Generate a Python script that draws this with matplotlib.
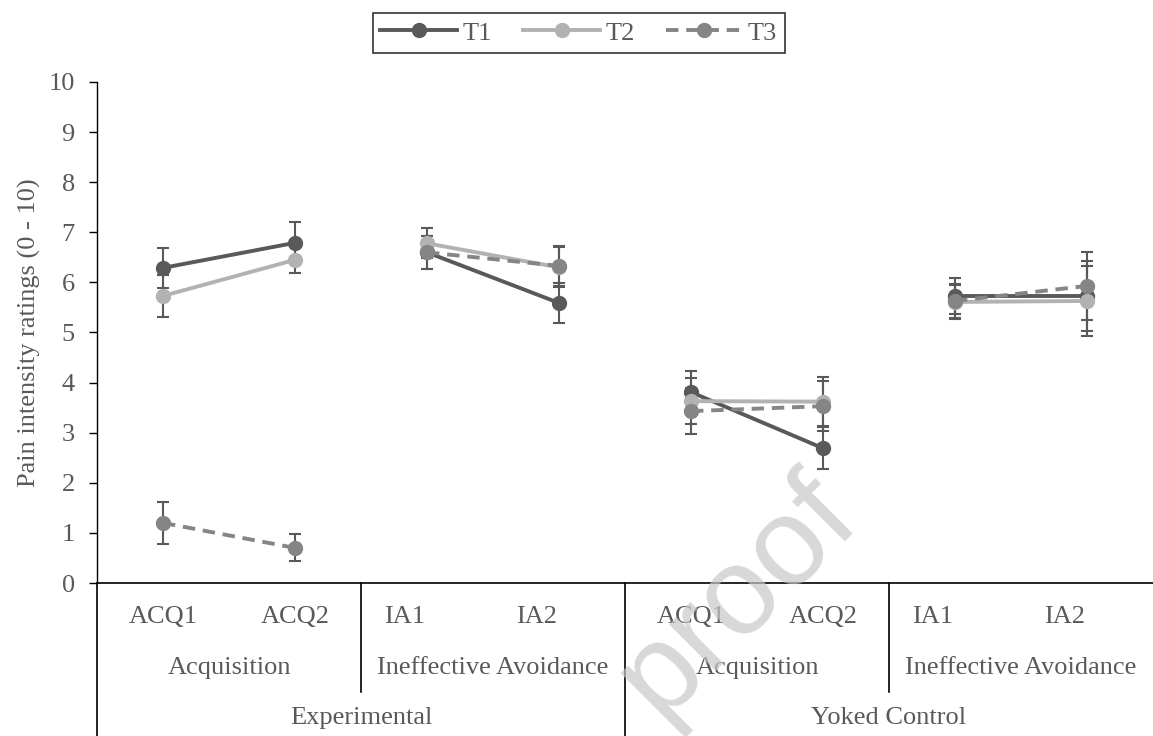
import numpy as np
import matplotlib
matplotlib.use("Agg")
from matplotlib import pyplot as plt
from matplotlib.lines import Line2D

plt.rcParams['font.family'] = ['Liberation Serif', 'DejaVu Serif']

# --- Data ---
phases = ['ACQ1', 'ACQ2', 'IA1', 'IA2', 'ACQ1', 'ACQ2', 'IA1', 'IA2']
blocks = ['Acquisition', 'Ineffective Avoidance', 'Acquisition', 'Ineffective Avoidance']
groups = ['Experimental', 'Yoked Control']

t1 = [6.29, 6.79, 6.60, 5.59, 3.81, 2.69, 5.73, 5.73]
t2 = [5.73, 6.45, 6.78, 6.30, 3.63, 3.62, 5.61, 5.63]
t3 = [1.20, 0.70, 6.60, 6.33, 3.43, 3.53, 5.63, 5.93]

t1_err = [0.40, 0.42, 0.33, 0.40, 0.42, 0.42, 0.36, 0.70]
t2_err = [0.42, 0.26, 0.30, 0.40, 0.46, 0.49, 0.34, 0.70]
t3_err = [0.42, 0.27, 0.33, 0.40, 0.46, 0.50, 0.34, 0.68]

series = [('T1', t1, t1_err, '#595959', '-'),
          ('T2', t2, t2_err, '#b2b2b2', '-'),
          ('T3', t3, t3_err, '#858585', (0, (3.2, 2.0)))]

txt_color = '#595959'
W, H = 1153, 736
fig = plt.figure(figsize=(W / 100, H / 100), dpi=100)
ax = fig.add_axes([97 / W, (H - 583) / H, (W - 97) / W, (583 - 82) / H])

x = np.arange(len(phases))
handles = []
for name, vals, err, col, ls in series:
    # two points per block, blocks are not joined
    for b in range(4):
        idx = slice(2 * b, 2 * b + 2)
        ax.errorbar(x[idx], vals[idx], yerr=err[idx], color=col, linestyle=ls,
                    linewidth=2.8, marker='o', markersize=10, ecolor='#595959',
                    elinewidth=1.5, capsize=4.5, capthick=1.5, zorder=3)
    handles.append(Line2D([], [], color=col, linestyle=ls, linewidth=2.8,
                          marker='o', markersize=10, label=name))

ax.set_xlim(-0.5, len(phases) - 0.5)
ax.set_ylim(0, 10)
ax.set_yticks(range(0, 11))
ax.set_xticks([])
ax.tick_params(axis='y', colors='#000000', labelcolor=txt_color, labelsize=19,
               length=6, width=1, direction='out', pad=10)
for s in ['top', 'right']:
    ax.spines[s].set_visible(False)
ax.spines['left'].set_linewidth(1)
ax.spines['bottom'].set_linewidth(1.2)

ax.set_ylabel('Pain intensity ratings (0 - 10)', fontsize=19, color=txt_color,
              labelpad=5)

# --- multi-level category labels ---
tr = ax.get_xaxis_transform()
ah = 583 - 82
row1 = (583 - 617) / ah
row2 = (583 - 668) / ah
row3 = (583 - 718) / ah
for i, p in enumerate(phases):
    shift = -0.17 if p.startswith('IA') else 0.0
    ax.text(x[i] + shift, row1, p, transform=tr, ha='center', va='center',
            fontsize=19, color=txt_color)
for b, name in enumerate(blocks):
    ax.text(2 * b + 0.5, row2, name, transform=tr, ha='center', va='center',
            fontsize=19, color=txt_color)
for g, name in enumerate(groups):
    ax.text(4 * g + 1.5, row3, name, transform=tr, ha='center', va='center',
            fontsize=19, color=txt_color)

# separators below the axis
bot = -(H - 583) / ah
mid = (583 - 692) / ah
for xs, y1 in [(-0.5, bot), (1.5, mid), (3.5, bot), (5.5, mid)]:
    ax.add_line(Line2D([xs, xs], [0, y1], transform=tr, color='#000000',
                       linewidth=1.2, clip_on=False))

# watermark
fig.text(0.64, 0.19, 'proof', rotation=45, fontsize=90, color='#c8c8c8',
         alpha=0.7, family='Liberation Sans', ha='center', va='center')

leg = fig.legend(handles=handles, loc='upper center',
                 bbox_to_anchor=(0.502, 1.0), ncol=3,
                 fontsize=19, frameon=True, fancybox=False, edgecolor='#000000',
                 handlelength=2.9, columnspacing=1.2, handletextpad=0.2,
                 borderpad=0.3)
leg.get_frame().set_linewidth(1.2)
for t in leg.get_texts():
    t.set_color(txt_color)

fig.savefig('out.png', dpi=100)
